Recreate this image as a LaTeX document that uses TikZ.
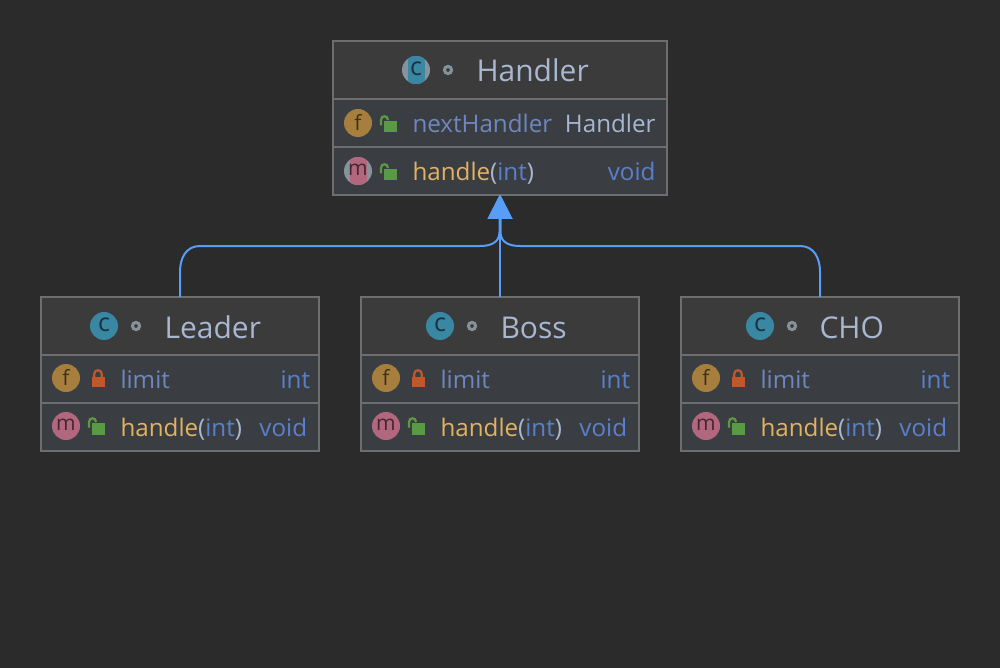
\documentclass[tikz,border=0pt]{standalone}
\usepackage{fontspec}
\setmainfont{Open Sans}
\usetikzlibrary{arrows.meta}
\definecolor{bgc}{HTML}{2B2B2B}
\definecolor{headc}{HTML}{3B3B3B}
\definecolor{rowc}{HTML}{3A3E42}
\definecolor{edgec}{HTML}{6E6E6E}
\definecolor{titlec}{HTML}{A9B7D1}
\definecolor{fieldc}{HTML}{6F87BE}
\definecolor{typec}{HTML}{5A7FCB}
\definecolor{methc}{HTML}{E2B263}
\definecolor{arrowc}{HTML}{589DF6}
\definecolor{tealc}{HTML}{3A87A3}
\definecolor{goldc}{HTML}{A67F3E}
\definecolor{pinkc}{HTML}{B2677E}
\definecolor{grayc}{HTML}{87939C}
\definecolor{greenc}{HTML}{5A9A45}
\definecolor{redc}{HTML}{C0582C}
\tikzset{
  x=1pt,y=-1pt,
  classbox/.style={draw=edgec,line width=1.6pt,minimum height=154pt,inner sep=0pt,outer sep=0pt},
  rowsep/.style={draw=edgec,line width=2pt},
  ctitle/.style={font=\fontsize{30}{34}\selectfont,text=titlec,anchor=base west,inner sep=0pt},
  crow/.style={font=\fontsize{24.2}{28}\selectfont,anchor=base west,inner sep=0pt},
  crowr/.style={font=\fontsize{24.2}{28}\selectfont,anchor=base east,inner sep=0pt},
  icontext/.style={text=black,text opacity=0.62,inner sep=0pt},
  rel/.style={draw=arrowc,line width=2pt,-{Triangle[length=24pt,width=24pt,color=arrowc]}}
}
\newcommand{\lockclosed}[2]{%
  \fill[redc] (#1-6.5,#2-1) rectangle (#1+6.5,#2+8.5);
  \draw[redc,line width=2.2pt] (#1-3.8,#2-1) -- (#1-3.8,#2-4) .. controls (#1-3.8,#2-9) and (#1+3.8,#2-9) .. (#1+3.8,#2-4) -- (#1+3.8,#2-1);
}
\newcommand{\lockopen}[2]{%
  \fill[greenc] (#1-3,#2-4) rectangle (#1+9.5,#2+7.5);
  \draw[greenc,line width=2.2pt] (#1-6,#2+0.5) -- (#1-6,#2-5) .. controls (#1-6,#2-10) and (#1+1,#2-10) .. (#1+1,#2-5);
}
\newcommand{\ringdot}[2]{\draw[grayc,line width=3pt] (#1,#2) circle[radius=3.6pt];}
\newcommand{\gc}{\fontsize{25}{25}\selectfont c}
\newcommand{\gf}{\fontsize{21}{21}\selectfont f}
\newcommand{\gm}{\fontsize{21}{21}\selectfont m}
\newcommand{\icon}[5]{%
  \node[circle,fill=#4,minimum size=28pt,inner sep=0pt] (#1) at (#2,#3) {};
  \node[icontext] (#1t) at (#2,#3-1) {#5};
}
\newcommand{\bandicon}[5]{%
  \node[circle,fill=grayc,minimum size=28pt,inner sep=0pt] (#1) at (#2,#3) {};
  \begin{scope}
    \clip (#2,#3) circle[radius=14pt];
    \fill[#4] (#2-8.5,#3-14) rectangle (#2+8.5,#3+14);
  \end{scope}
  \node[icontext] (#1t) at (#2,#3-1) {#5};
}
% #1 id, #2 left x, #3 title, #4 title offset, #5 class icon offset
\newcommand{\subclass}[5]{%
  \node[classbox,minimum width=278pt,fill=headc] (#1) at (#2+139,374) {};
  \fill[rowc] (#2+1,355) rectangle (#2+277,450);
  \draw[rowsep] (#2,355) -- (#2+278,355);
  \draw[rowsep] (#2,403) -- (#2+278,403);
  \draw[edgec,line width=1.6pt] (#2,297) rectangle (#2+278,451);
  \icon{#1c}{#2+#5}{326}{tealc}{\gc}
  \ringdot{#2+#5+32}{326}
  \node[ctitle] (#1n) at (#2+#4-0.7,338) {#3};
  \icon{#1f}{#2+25}{378}{goldc}{\gf}
  \lockclosed{#2+57}{378}
  \node[crow,text=fieldc] (#1l) at (#2+79.3,388.5) {limit};
  \node[crowr,text=typec] (#1i) at (#2+269.3,388.5) {int};
  \icon{#1m}{#2+25}{426}{pinkc}{\gm}
  \lockopen{#2+54}{427}
  \node[crow] (#1h) at (#2+79.3,436.5) {\textcolor{methc}{handle}\textcolor{titlec}{(}\textcolor{typec}{int}\textcolor{titlec}{)}};
  \node[crowr,text=typec] (#1v) at (#2+266.3,436.5) {void};
}
\begin{document}
\begin{tikzpicture}
\useasboundingbox[fill=bgc] (0,0) rectangle (1000,668);
% Handler
\node[classbox,minimum width=334pt,fill=headc] (handler) at (500,118) {};
\fill[rowc] (334,99) rectangle (666,194);
\draw[rowsep] (333,99) -- (667,99);
\draw[rowsep] (333,147) -- (667,147);
\draw[edgec,line width=1.6pt] (333,41) rectangle (667,195);
\bandicon{hc}{416}{70}{tealc}{\gc}
\ringdot{448}{70}
\node[ctitle] (hn) at (476.3,82) {Handler};
\icon{hf}{358}{123}{goldc}{\gf}
\lockopen{387}{125}
\node[crow,text=fieldc] (hl) at (412.3,132.5) {nextHandler};
\node[crowr,text=titlec] (hi) at (655.7,132.5) {Handler};
\bandicon{hm}{358}{171}{pinkc}{\gm}
\lockopen{387}{173}
\node[crow] (hh) at (412.3,180.5) {\textcolor{methc}{handle}\textcolor{titlec}{(}\textcolor{typec}{int}\textcolor{titlec}{)}};
\node[crowr,text=typec] (hv) at (655.7,180.5) {void};
% Subclasses
\subclass{leader}{41}{Leader}{124}{63}
\subclass{boss}{361}{Boss}{140}{79}
\subclass{cho}{681}{CHO}{139}{79}
% Connectors
\draw[rel] (leader.north) -- ++(0,-25) .. controls +(0,-14) and (186,246) .. (200,246) -- (480,246) .. controls (490,246) and (499.5,243) .. (499.5,232) -- ([xshift=-0.5pt]handler.south);
\draw[rel] (cho.north) -- ++(0,-25) .. controls +(0,-14) and (814,246) .. (800,246) -- (520,246) .. controls (510,246) and (500.5,243) .. (500.5,232) -- ([xshift=0.5pt]handler.south);
\draw[rel] (boss.north) -- (handler.south);
\end{tikzpicture}
\end{document}
